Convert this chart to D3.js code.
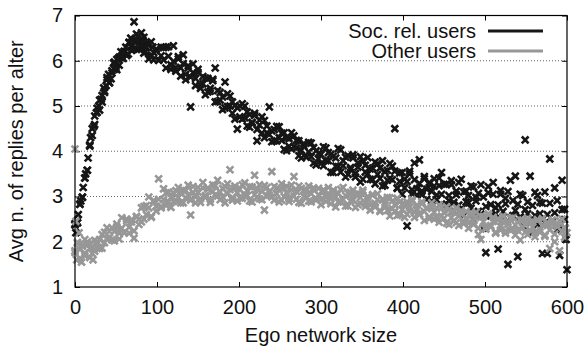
<!DOCTYPE html>
<html>
<head>
<meta charset="utf-8">
<script src="https://cdn.jsdelivr.net/npm/d3@7"></script>
<style>
  body { margin: 0; background: #fff; }
  svg { font-family: "Liberation Sans", Arial, sans-serif; }
</style>
</head>
<body>
<svg id="chart"></svg>
<script>
// ego network sizes (x) shared by both series
const egoSizes = [0,3,6,9,12,15,18,21,24,27,30,33,36,39,42,45,48,51,54,57,60,63,66,69,72,75,78,81,84,87,90,93,96,99,
  102,105,108,111,114,117,120,123,126,129,132,135,138,141,144,147,150,153,156,159,162,165,168,171,174,177,180,183,186,189,192,195,198,
  201,204,207,210,213,216,219,222,225,228,231,234,237,240,243,246,249,252,255,258,261,264,267,270,273,276,279,282,285,288,291,294,297,
  300,303,306,309,312,315,318,321,324,327,330,333,336,339,342,345,348,351,354,357,360,363,366,369,372,375,378,381,384,387,390,393,396,399,
  402,405,408,411,414,417,420,423,426,429,432,435,438,441,444,447,450,453,456,459,462,465,468,471,474,477,480,483,486,489,492,495,498,
  501,504,507,510,513,516,519,522,525,528,531,534,537,540,543,546,549,552,555,558,561,564,567,570,573,576,579,582,585,588,591,594,597];

// Soc. rel. users, two readings per size
const socRelValues = [2.4,2.42,2.83,2.98,3.41,3.58,4.11,4.5,4.59,4.95,4.91,5.23,5.3,5.63,5.51,5.78,5.81,6.03,5.9,6.1,6.21,6.12,6.41,6.23,6.86,6.59,6.26,6.62,6.17,6.39,6.04,6.42,6.02,6.22,
  6.01,6.3,6.02,6.3,6.31,5.81,6.33,5.85,6.04,5.66,6.13,5.7,5.89,4.98,5.74,5.45,5.81,5.47,5.65,5.25,5.61,5.33,5.59,5.84,5.1,5.3,4.92,5.53,4.99,5.22,4.84,5.01,4.49,
  5.0,4.71,5.0,4.56,4.81,4.62,4.84,4.23,4.69,4.4,4.68,4.41,4.98,4.21,4.48,4.23,4.54,4.24,4.41,4.01,4.28,4.05,4.34,4.07,4.23,3.85,4.12,3.87,4.2,3.88,4.08,3.7,3.95,
  3.73,4.1,3.79,3.97,3.54,3.89,3.67,4.06,3.54,3.79,3.43,3.9,3.6,3.92,3.43,3.74,3.32,3.79,3.54,3.86,3.38,3.63,3.28,3.72,3.4,3.79,3.25,3.58,3.4,3.67,4.5,3.19,3.52,3.05,
  3.38,2.35,3.5,3.15,3.74,3.03,3.81,3.12,3.39,2.94,3.28,3.11,3.39,2.93,3.24,3.53,2.81,3.27,2.91,3.35,2.68,3.12,2.81,3.38,2.58,3.12,2.86,3.23,2.49,2.98,2.67,3.26,2.3,
  1.76,3.08,2.57,3.31,2.75,1.84,3.13,2.47,2.96,1.5,3.36,2.58,3.45,1.67,3.05,2.34,4.25,2.62,3.45,2.2,3.09,2.38,2.87,1.74,3.1,1.74,3.83,2.42,3.19,2.25,1.7,3.36,2.72];
const socRelValues2 = [2.37,2.42,2.83,2.99,3.41,3.58,4.14,4.35,4.78,4.86,5.13,5.09,5.33,5.58,5.52,5.73,5.97,5.8,6.08,6.06,6.19,6.12,6.4,6.31,6.43,6.25,6.44,6.34,6.52,6.3,6.37,6.13,6.18,6.26,
  6.01,6.11,6.29,5.84,6.1,5.91,5.99,5.77,6.09,5.84,5.94,5.58,5.84,5.64,5.93,5.61,5.74,5.39,5.49,5.62,5.31,5.39,5.56,5.09,5.34,5.13,5.2,4.96,5.27,5.0,5.09,4.71,4.96,
  4.76,5.05,4.74,4.87,4.53,4.64,4.79,4.48,4.58,4.76,4.3,4.56,4.37,4.45,4.23,4.55,4.3,4.4,4.04,4.3,4.11,4.41,4.1,4.24,3.9,4.02,4.17,3.88,3.99,4.18,3.74,4.01,3.83,
  3.93,3.68,4.07,3.79,3.93,3.53,3.85,3.66,4.03,3.68,3.87,3.49,3.64,3.85,3.51,3.65,3.88,3.38,3.69,3.5,3.61,3.37,3.76,3.49,3.63,3.23,3.55,3.36,3.73,3.37,3.56,3.18,3.33,3.53,
  3.19,3.33,3.56,3.06,3.37,3.17,3.29,3.04,3.44,3.16,3.31,2.9,3.23,3.03,3.41,3.05,3.27,2.83,3.02,3.26,2.87,3.04,3.31,2.73,3.1,2.88,3.02,2.74,3.21,2.9,3.07,2.61,2.99,
  2.78,3.22,2.82,3.05,2.62,2.81,3.05,2.67,2.84,3.11,2.53,2.91,2.69,2.83,2.55,3.02,2.71,2.88,2.42,2.8,2.58,3.02,2.62,2.85,2.42,2.6,2.85,2.47,2.64,2.91,2.33,2.71,2.49];

// Other users, two readings per size
const otherValues = [1.8,1.97,1.63,1.9,1.75,2.0,1.65,1.88,1.79,2.0,1.85,2.16,1.98,2.31,2.09,2.31,2.02,2.33,2.06,2.53,2.2,2.5,2.19,2.49,2.08,2.55,2.38,2.75,2.5,2.8,2.99,2.54,2.9,2.68,
  3.39,2.78,3.17,2.8,3.1,2.76,3.08,2.91,3.2,2.86,3.14,2.97,3.25,2.59,3.09,2.86,3.2,2.95,3.31,2.98,3.19,2.87,3.26,3.03,3.36,2.93,3.18,2.86,3.28,3.59,2.98,3.23,2.9,
  3.16,2.96,3.3,3.02,3.22,2.88,3.47,2.98,3.26,2.93,2.7,3.2,3.03,3.55,2.92,3.18,2.88,3.28,3.0,3.22,2.89,3.15,3.44,2.94,3.23,2.85,3.14,2.98,3.23,2.88,3.15,2.92,3.18,
  2.82,3.11,2.89,3.2,2.95,3.14,2.77,3.07,2.88,3.2,2.79,3.07,2.9,3.14,2.76,3.07,2.85,3.14,2.78,3.0,2.7,3.04,2.77,3.06,2.67,2.93,2.76,2.98,2.57,2.9,2.67,2.96,2.6,2.83,
  2.54,2.88,2.68,2.93,2.54,2.81,2.6,2.88,2.47,2.73,2.55,2.86,2.5,2.74,2.43,2.76,2.52,2.77,2.38,2.67,2.46,2.75,2.36,2.61,2.4,2.67,2.3,2.59,2.38,2.65,2.16,2.05,2.56,
  2.28,2.62,2.33,2.54,2.19,2.48,2.26,2.57,2.19,2.44,2.26,2.53,2.15,2.44,2.04,2.48,2.21,2.52,2.26,2.44,2.11,2.47,2.21,2.51,2.15,2.38,1.85,2.48,2.0,2.4,1.8,2.5,2.1];
const otherValues2 = [1.76,1.99,1.83,1.92,1.69,1.96,1.85,1.74,2.03,1.85,2.05,1.86,2.21,2.07,2.23,2.04,2.23,2.39,2.19,2.3,2.21,2.46,2.32,2.44,2.24,2.56,2.5,2.44,2.78,2.6,2.75,2.56,2.91,2.78,
  2.94,2.75,2.93,3.08,2.88,2.98,2.89,3.13,2.98,3.08,2.86,3.13,3.03,2.92,3.22,2.99,3.1,2.87,3.19,3.02,3.16,2.94,3.11,3.24,3.01,3.1,2.99,3.22,3.06,3.15,2.92,3.19,3.08,
  2.97,3.26,3.03,3.13,2.9,3.21,3.04,3.17,2.95,3.11,3.24,3.01,3.1,2.99,3.22,3.06,3.15,2.92,3.19,3.08,2.96,3.25,3.01,3.11,2.87,3.18,3.0,3.13,2.9,3.06,3.19,2.95,3.04,
  2.93,3.15,2.99,3.07,2.84,3.11,2.99,2.88,3.16,2.93,3.02,2.79,3.09,2.92,3.05,2.82,2.98,3.1,2.86,2.94,2.81,3.03,2.85,2.93,2.69,2.94,2.82,2.69,2.97,2.73,2.82,2.58,2.88,2.71,
  2.83,2.61,2.76,2.89,2.65,2.73,2.61,2.84,2.67,2.75,2.51,2.77,2.65,2.53,2.81,2.57,2.65,2.41,2.71,2.53,2.65,2.42,2.57,2.69,2.45,2.53,2.41,2.63,2.46,2.54,2.3,2.56,2.44,
  2.32,2.6,2.36,2.45,2.21,2.51,2.34,2.46,2.24,2.39,2.52,2.28,2.37,2.25,2.48,2.31,2.4,2.16,2.43,2.32,2.2,2.49,2.26,2.36,2.12,2.43,2.26,2.39,2.17,2.33,2.46,2.23,2.32];

// extra points
const socRelExtraX = [1,2,4,7,10,13,16,19,23,26,29,32,35,38,41,44,47,50,53,56,59,62,65,68,71,74,77,80,83,86,89,92,95,599,600];
const socRelExtraY = [2.2,2.45,2.6,2.9,3.2,3.5,3.85,4.3,4.55,4.85,5.0,5.15,5.4,5.45,5.7,5.6,5.95,5.85,6.05,6.2,6.05,6.3,6.15,6.5,6.25,6.45,6.55,6.3,6.45,6.2,6.35,6.1,6.3,2.05,1.38];
const otherExtraX = [0,1,2,5,8,12,18,22,26,598,600];
const otherExtraY = [4.05,2.45,1.6,2.2,1.55,2.05,1.95,1.6,1.95,2.3,2.2];

const xTicks = [0,100,200,300,400,500,600];
const yTicks = [1,2,3,4,5,6,7];
const gridValues = [2,3,4,5,6];
const seriesNames = ["Soc. rel. users", "Other users"];
const seriesColors = ["#161616", "#979797"];

const width = 588, height = 353;
const margin = { top: 15.5, right: 21, bottom: 66, left: 75 };
const innerW = width - margin.left - margin.right;
const innerH = height - margin.top - margin.bottom;

const svg = d3.select('#chart')
    .attr('width', width)
    .attr('height', height);

const chart = svg.append('g')
    .attr('transform', `translate(${margin.left},${margin.top})`);

const xScale = d3.scaleLinear().domain([0, 600]).range([0, innerW]);
const yScale = d3.scaleLinear().domain([1, 7]).range([innerH, 0]);

// dotted grid
chart.selectAll('.grid')
    .data(gridValues)
  .join('line')
    .attr('class', 'grid')
    .attr('x1', 0).attr('x2', innerW)
    .attr('y1', d => yScale(d)).attr('y2', d => yScale(d))
    .attr('stroke', '#666')
    .attr('stroke-width', 1)
    .attr('stroke-dasharray', '1,2');

// axes with inward ticks
const styleAxis = g => {
    g.select('.domain').remove();
    g.selectAll('line').attr('stroke', '#000');
    g.selectAll('text').attr('fill', '#111').style('font-size', '20px');
};
const fmt = d3.format('d');

chart.append('g')
    .attr('transform', `translate(0,${innerH})`)
    .call(d3.axisBottom(xScale).tickValues(xTicks).tickSize(-5).tickPadding(13).tickFormat(fmt))
    .call(styleAxis);
chart.append('g')
    .call(d3.axisTop(xScale).tickValues(xTicks).tickSize(-5).tickFormat(''))
    .call(styleAxis);
chart.append('g')
    .call(d3.axisLeft(yScale).tickValues(yTicks).tickSize(-5).tickPadding(12).tickFormat(fmt))
    .call(styleAxis);
chart.append('g')
    .attr('transform', `translate(${innerW},0)`)
    .call(d3.axisRight(yScale).tickValues(yTicks).tickSize(-5).tickFormat(''))
    .call(styleAxis);

// points
const cross = 'M-3.4,-3.4L3.4,3.4M-3.4,3.4L3.4,-3.4';
const socRelPts = egoSizes.map((x, i) => ({ x, y: socRelValues[i] }))
    .concat(egoSizes.map((x, i) => ({ x, y: socRelValues2[i] })))
    .concat(socRelExtraX.map((x, i) => ({ x, y: socRelExtraY[i] })));
const otherPts = egoSizes.map((x, i) => ({ x, y: otherValues[i] }))
    .concat(egoSizes.map((x, i) => ({ x, y: otherValues2[i] })))
    .concat(otherExtraX.map((x, i) => ({ x, y: otherExtraY[i] })));

[socRelPts, otherPts].forEach((pts, k) => {
    chart.append('g')
        .selectAll('path')
        .data(pts)
      .join('path')
        .attr('d', cross)
        .attr('transform', d => `translate(${xScale(d.x)},${yScale(d.y)})`)
        .attr('stroke', seriesColors[k])
        .attr('stroke-width', 2.6)
        .attr('fill', 'none');
});

// frame
chart.append('rect')
    .attr('width', innerW).attr('height', innerH)
    .attr('fill', 'none')
    .attr('stroke', '#000')
    .attr('stroke-width', 1.2);

// legend
const legend = chart.append('g');
seriesNames.forEach((name, i) => {
    const y = 15.5 + i * 20;
    legend.append('text')
        .attr('x', 401).attr('y', y + 6.5)
        .attr('text-anchor', 'end')
        .style('font-size', '20px')
        .attr('fill', '#111')
        .text(name);
    legend.append('line')
        .attr('x1', 413).attr('x2', 468)
        .attr('y1', y).attr('y2', y)
        .attr('stroke', seriesColors[i])
        .attr('stroke-width', 3);
});

// axis titles
svg.append('text')
    .attr('x', margin.left + innerW / 2)
    .attr('y', 342)
    .attr('text-anchor', 'middle')
    .style('font-size', '20px')
    .attr('fill', '#111')
    .text('Ego network size');

svg.append('text')
    .attr('transform', `translate(23,${margin.top + innerH / 2}) rotate(-90)`)
    .attr('text-anchor', 'middle')
    .style('font-size', '20px')
    .attr('fill', '#111')
    .text('Avg n. of replies per alter');
</script>
</body>
</html>
